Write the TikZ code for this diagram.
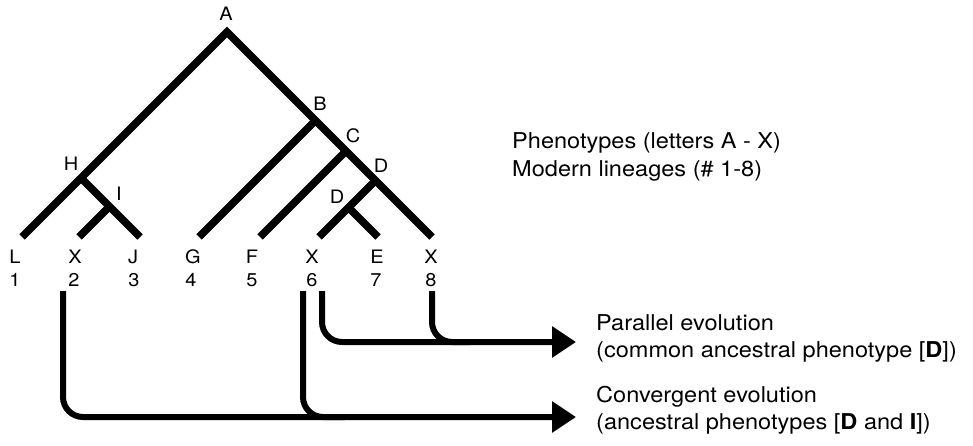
\documentclass[tikz,border=0pt]{standalone}
\usepackage{fontspec}
\setmainfont{TeX Gyre Heros}[FakeStretch=1.08]
\usetikzlibrary{arrows.meta}
\begin{document}
\begin{tikzpicture}[x=1pt,y=-1pt,
  branch/.style={line width=7.5pt, line cap=butt, line join=miter},
  link/.style={line width=6pt, rounded corners=20pt},
  tipped/.style={-{Triangle[length=24pt,width=30pt]}},
  lab/.style={inner sep=0pt, anchor=base, font=\fontsize{18.5}{22}\selectfont},
  note/.style={inner sep=0pt, anchor=base west, font=\fontsize{21.8}{26}\selectfont}
]
\useasboundingbox (0,0) rectangle (973,446);
% tree points
\coordinate (A) at (227,32);
\coordinate (B) at (315.5,120.5);
\coordinate (C) at (346,151);
\coordinate (D) at (375.5,180.5);
\coordinate (Di) at (348.5,207.5);
\coordinate (H) at (81,178);
\coordinate (I) at (109.5,206.5);
\coordinate (l1) at (22,237);
\coordinate (l2) at (79,237);
\coordinate (l3) at (140,237);
\coordinate (l4) at (199,237);
\coordinate (l5) at (260,237);
\coordinate (l6) at (319,237);
\coordinate (l7) at (378,237);
\coordinate (l8) at (432,237);
% branches
\draw[branch] (l1) -- (A) -- (l8);
\draw[branch] (H) -- (l3);
\draw[branch] (I) -- (l2);
\draw[branch] (B) -- (l4);
\draw[branch] (C) -- (l5);
\draw[branch] (D) -- (l6);
\draw[branch] (Di) -- (l7);
% internal labels
\node[lab] (tA) at (226,21) {A};
\node[lab] (tB) at (320,111) {B};
\node[lab] (tC) at (353,143) {C};
\node[lab] (tD) at (381,173) {D};
\node[lab] (tDi) at (337,204) {D};
\node[lab] (tH) at (71,171) {H};
\node[lab] (tI) at (119,201) {I};
% leaf labels
\node[lab] (p1) at (15,263) {L};
\node[lab] (p2) at (75,263) {X};
\node[lab] (p3) at (133,263) {J};
\node[lab] (p4) at (193,263) {G};
\node[lab] (p5) at (252,263) {F};
\node[lab] (p6) at (312,263) {X};
\node[lab] (p7) at (377,263) {E};
\node[lab] (p8) at (431,263) {X};
\node[lab] (n1) at (15,286) {1};
\node[lab] (n2) at (74,286) {2};
\node[lab] (n3) at (134,286) {3};
\node[lab] (n4) at (191,286) {4};
\node[lab] (n5) at (252,286) {5};
\node[lab] (n6) at (312,286) {6};
\node[lab] (n7) at (376,286) {7};
\node[lab] (n8) at (431,286) {8};
% legend
\node[note] (leg1) at (512,149) {Phenotypes (letters A - X)};
\node[note] (leg2) at (512,176.5) {Modern lineages (\# 1-8)};
% outcome texts
\node[note] (par1) at (596,330.5) {Parallel evolution};
\node[note] (par2) at (596,357.5) {(common ancestral phenotype [\textbf{D}])};
\node[note] (con1) at (596,402) {Convergent evolution};
\node[note] (con2) at (596,429) {(ancestral phenotypes [\textbf{D} and \textbf{I}])};
% connectors
\coordinate (s2) at (63,291);
\coordinate (s6a) at (303,291);
\coordinate (s6b) at (322,291);
\coordinate (s8) at (432,291);
\coordinate (tc) at (576,417);
\coordinate (tp) at (576,342);
\coordinate (m6) at (345,417);
\coordinate (m8) at (470,342);
\draw[link,tipped] (s2) |- (tc);
\draw[link] (s6a) |- (m6);
\draw[link,tipped] (s6b) |- (tp);
\draw[link] (s8) |- (m8);
\end{tikzpicture}
\end{document}
